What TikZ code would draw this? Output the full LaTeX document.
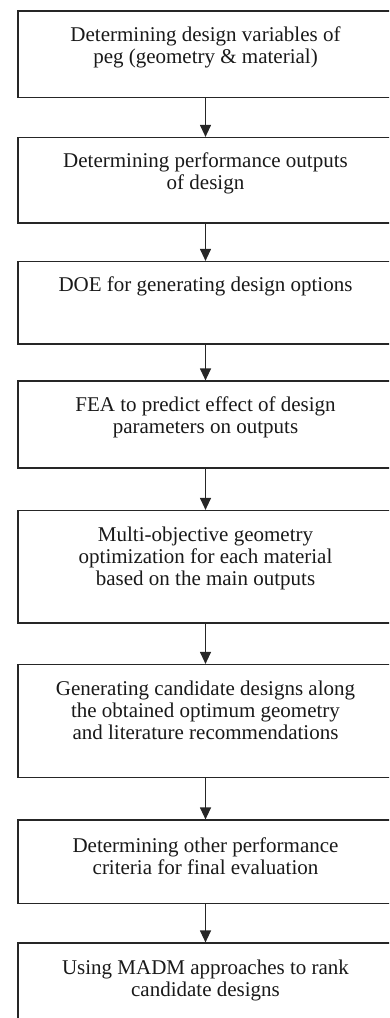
\documentclass[tikz,border=0pt]{standalone}
\usepackage{fontspec}
\setmainfont{Liberation Serif}
\usetikzlibrary{arrows.meta}
\tikzset{
  stepbox/.style={draw=black!85, line width=1.2pt, inner xsep=7.5pt, inner ysep=0pt,
    font=\fontsize{21}{22}\selectfont, text=black!90},
  flow/.style={draw=black!85, line width=1.2pt, -{Triangle[width=11pt,length=12pt]}},
}
\newcommand{\boxtext}[3]{\parbox[c][#1][t]{360pt}{\centering\rule{0pt}{#2}#3}}
\begin{document}
\begin{tikzpicture}[x=1pt,y=-1pt]
\useasboundingbox (0,0) rectangle (389,1018);
\clip (0,0) rectangle (389,1018);
\node[stepbox] (b1) at (205.5,54.25) {\boxtext{86.5pt}{30.5pt}{Determining design variables of\\peg (geometry \& material)}};
\node[stepbox] (b2) at (205.5,180.25) {\boxtext{85.5pt}{30pt}{Determining performance outputs\\of design}};
\node[stepbox] (b3) at (205.5,302.75) {\boxtext{82.5pt}{30pt}{DOE for generating design options}};
\node[stepbox] (b4) at (205.5,424.5) {\boxtext{87pt}{30.5pt}{FEA to predict effect of design\\parameters on outputs}};
\node[stepbox] (b5) at (205.5,566.75) {\boxtext{112.5pt}{31pt}{Multi-objective geometry\\optimization for each material\\based on the main outputs}};
\node[stepbox] (b6) at (205.5,721) {\boxtext{113pt}{31pt}{Generating candidate designs along\\the obtained optimum geometry\\and literature recommendations}};
\node[stepbox] (b7) at (205.5,861.75) {\boxtext{83.5pt}{32pt}{Determining other performance\\criteria for final evaluation}};
\node[stepbox] (b8) at (205.5,986.5) {\boxtext{87pt}{31pt}{Using MADM approaches to rank\\candidate designs}};
\draw[flow] (b1) -- (b2);
\draw[flow] (b2) -- (b3);
\draw[flow] (b3) -- (b4);
\draw[flow] (b4) -- (b5);
\draw[flow] (b5) -- (b6);
\draw[flow] (b6) -- (b7);
\draw[flow] (b7) -- (b8);
\end{tikzpicture}
\end{document}
